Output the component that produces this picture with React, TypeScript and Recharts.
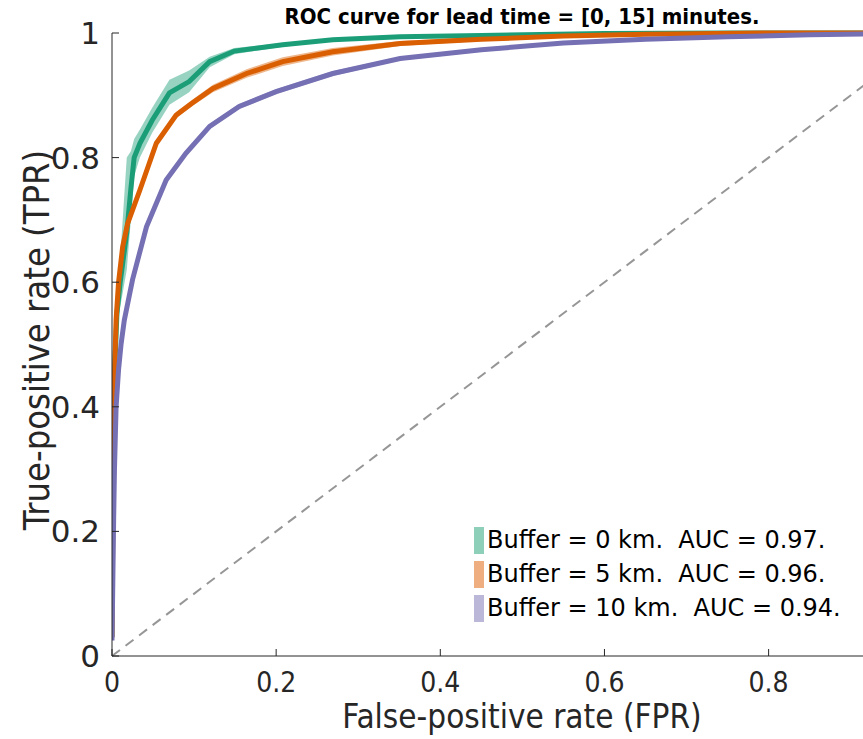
import { ComposedChart, Line, Area, XAxis, YAxis, Label } from "recharts";

// ROC points: FPR, TPR and the shaded band (low / high)
const fprBuf0 = [0, 0.001, 0.003, 0.006, 0.01, 0.014, 0.018, 0.023, 0.027, 0.034, 0.049, 0.07, 0.094, 0.119, 0.149, 0.208, 0.269, 0.351, 0.45, 0.6, 0.75, 1];
const tprBuf0 = [0.03, 0.3, 0.45, 0.55, 0.6, 0.64, 0.68, 0.75, 0.8, 0.823, 0.86, 0.904, 0.922, 0.954, 0.971, 0.981, 0.989, 0.994, 0.996, 0.999, 1, 1];
const lowBuf0 = [0.03, 0.27, 0.42, 0.52, 0.56, 0.59, 0.62, 0.7, 0.77, 0.8, 0.84, 0.885, 0.905, 0.945, 0.966, 0.978, 0.987, 0.993, 0.995, 0.998, 1, 1];
const highBuf0 = [0.03, 0.33, 0.48, 0.58, 0.64, 0.72, 0.8, 0.81, 0.83, 0.845, 0.88, 0.925, 0.94, 0.962, 0.976, 0.984, 0.991, 0.995, 0.997, 1, 1, 1];

const fprBuf5 = [0, 0.001, 0.002, 0.003, 0.005, 0.008, 0.013, 0.019, 0.034, 0.054, 0.078, 0.097, 0.123, 0.164, 0.208, 0.269, 0.351, 0.45, 0.55, 0.65, 0.8, 1];
const tprBuf5 = [0.03, 0.22, 0.35, 0.45, 0.54, 0.6, 0.657, 0.694, 0.748, 0.823, 0.868, 0.887, 0.911, 0.935, 0.954, 0.97, 0.983, 0.99, 0.995, 0.998, 1, 1];
const lowBuf5 = [0.03, 0.21, 0.34, 0.44, 0.535, 0.595, 0.652, 0.689, 0.743, 0.818, 0.863, 0.882, 0.905, 0.928, 0.947, 0.964, 0.979, 0.987, 0.993, 0.997, 1, 1];
const highBuf5 = [0.03, 0.23, 0.36, 0.46, 0.545, 0.605, 0.662, 0.699, 0.753, 0.828, 0.873, 0.892, 0.917, 0.942, 0.961, 0.976, 0.987, 0.993, 0.997, 0.999, 1, 1];

const fprBuf10 = [0, 0.001, 0.002, 0.003, 0.005, 0.008, 0.011, 0.015, 0.025, 0.042, 0.066, 0.09, 0.119, 0.155, 0.2, 0.269, 0.351, 0.45, 0.55, 0.65, 0.75, 0.85, 1];
const tprBuf10 = [0.025, 0.12, 0.22, 0.3, 0.4, 0.46, 0.5, 0.539, 0.604, 0.689, 0.764, 0.807, 0.85, 0.882, 0.906, 0.935, 0.959, 0.973, 0.984, 0.99, 0.994, 0.997, 1];
const lowBuf10 = [0.025, 0.115, 0.215, 0.295, 0.395, 0.455, 0.495, 0.535, 0.6, 0.685, 0.76, 0.803, 0.846, 0.878, 0.902, 0.931, 0.956, 0.97, 0.982, 0.988, 0.993, 0.996, 1];
const highBuf10 = [0.025, 0.125, 0.225, 0.305, 0.405, 0.465, 0.505, 0.543, 0.608, 0.693, 0.768, 0.811, 0.854, 0.886, 0.91, 0.939, 0.962, 0.976, 0.986, 0.992, 0.995, 0.998, 1];

const chanceFpr = [0, 1];
const chanceTpr = [0, 1];

const xTicks = [0, 0.2, 0.4, 0.6, 0.8];
const yTicks = [0, 0.2, 0.4, 0.6, 0.8, 1];

const toRows = (fpr: number[], tpr: number[], low: number[], high: number[]) =>
  fpr.map((x, i) => ({ fpr: x, tpr: tpr[i], band: [low[i], high[i]] }));

const series = [
  { key: "b0", label: "Buffer = 0 km.  AUC = 0.97.", color: "#1b9e77", patch: "#8ecfba", rows: toRows(fprBuf0, tprBuf0, lowBuf0, highBuf0) },
  { key: "b5", label: "Buffer = 5 km.  AUC = 0.96.", color: "#d95f02", patch: "#eeae80", rows: toRows(fprBuf5, tprBuf5, lowBuf5, highBuf5) },
  { key: "b10", label: "Buffer = 10 km.  AUC = 0.94.", color: "#7570b3", patch: "#bab7d9", rows: toRows(fprBuf10, tprBuf10, lowBuf10, highBuf10) },
];

const chanceRows = chanceFpr.map((x, i) => ({ fpr: x, tpr: chanceTpr[i] }));

const AXIS = "#262626";

function XTick(props: any) {
  const { x, y, payload } = props;
  return (
    <g>
      <line x1={x} y1={y} x2={x} y2={y - 7} stroke={AXIS} strokeWidth={1} />
      <text x={x} y={y + 36} textAnchor="middle" fontFamily="DejaVu Sans Condensed" fontSize={28} fill={AXIS}>
        {String(payload.value)}
      </text>
    </g>
  );
}

function YTick(props: any) {
  const { x, y, payload } = props;
  return (
    <g>
      <line x1={x} y1={y} x2={x + 7} y2={y} stroke={AXIS} strokeWidth={1} />
      <text x={x - 12} y={y} textAnchor="end" dominantBaseline="central" fontFamily="DejaVu Sans" fontSize={31} fill={AXIS}>
        {String(payload.value)}
      </text>
    </g>
  );
}

function LegendBox() {
  return (
    <div style={{ position: "absolute", left: 474, top: 523, fontFamily: "DejaVu Sans", fontSize: 24, color: "#000" }}>
      {series.map((s) => (
        <div key={s.key} style={{ display: "flex", alignItems: "center", height: 34 }}>
          <div style={{ width: 10, height: 27, background: s.patch, marginRight: 3 }} />
          <span style={{ whiteSpace: "pre" }}>{s.label}</span>
        </div>
      ))}
    </div>
  );
}

export default function App() {
  return (
    <div style={{ position: "absolute", left: 0, top: 0, width: 863, height: 739, background: "#fff" }}>
      <ComposedChart width={863} height={739} margin={{ top: 33, right: 0, bottom: 23, left: 12 }}>
        <XAxis
          type="number"
          dataKey="fpr"
          domain={[0, 0.915]}
          allowDataOverflow
          ticks={xTicks}
          tick={<XTick />}
          tickLine={false}
          tickSize={0}
          tickMargin={0}
          height={60}
          axisLine={{ stroke: AXIS, strokeWidth: 1 }}
        >
          <Label
            content={() => (
              <text x={522} y={728} textAnchor="middle" fontFamily="DejaVu Sans Condensed" fontSize={33} fill={AXIS}>
                False-positive rate (FPR)
              </text>
            )}
          />
        </XAxis>
        <YAxis
          type="number"
          domain={[0, 1]}
          ticks={yTicks}
          tick={<YTick />}
          tickLine={false}
          tickSize={0}
          tickMargin={0}
          width={100}
          axisLine={{ stroke: AXIS, strokeWidth: 1 }}
        >
          <Label
            content={() => (
              <text
                x={36}
                y={340}
                transform="rotate(-90, 36, 340)"
                textAnchor="middle"
                dominantBaseline="central"
                fontFamily="DejaVu Sans Condensed"
                fontSize={36}
                fill={AXIS}
              >
                True-positive rate (TPR)
              </text>
            )}
          />
        </YAxis>
        <Line
          data={chanceRows}
          dataKey="tpr"
          stroke="#969696"
          strokeWidth={2}
          strokeDasharray="10 7"
          dot={false}
          activeDot={false}
          legendType="none"
          isAnimationActive={false}
        />
        {series.map((s) => (
          <Area
            key={s.key + "-band"}
            data={s.rows}
            dataKey="band"
            type="linear"
            stroke="none"
            fill={s.color}
            fillOpacity={0.45}
            isAnimationActive={false}
          />
        ))}
        {series.map((s) => (
          <Line
            key={s.key}
            data={s.rows}
            dataKey="tpr"
            name={s.label}
            type="linear"
            stroke={s.color}
            strokeWidth={5}
            dot={false}
            activeDot={false}
            isAnimationActive={false}
          />
        ))}
      </ComposedChart>
      <LegendBox />
      <div
        style={{
          position: "absolute",
          left: 522,
          top: 4,
          transform: "translateX(-50%)",
          whiteSpace: "nowrap",
          fontFamily: "DejaVu Sans Condensed",
          fontWeight: "bold",
          fontSize: 22,
          color: "#000",
        }}
      >
        ROC curve for lead time = [0, 15] minutes.
      </div>
    </div>
  );
}
